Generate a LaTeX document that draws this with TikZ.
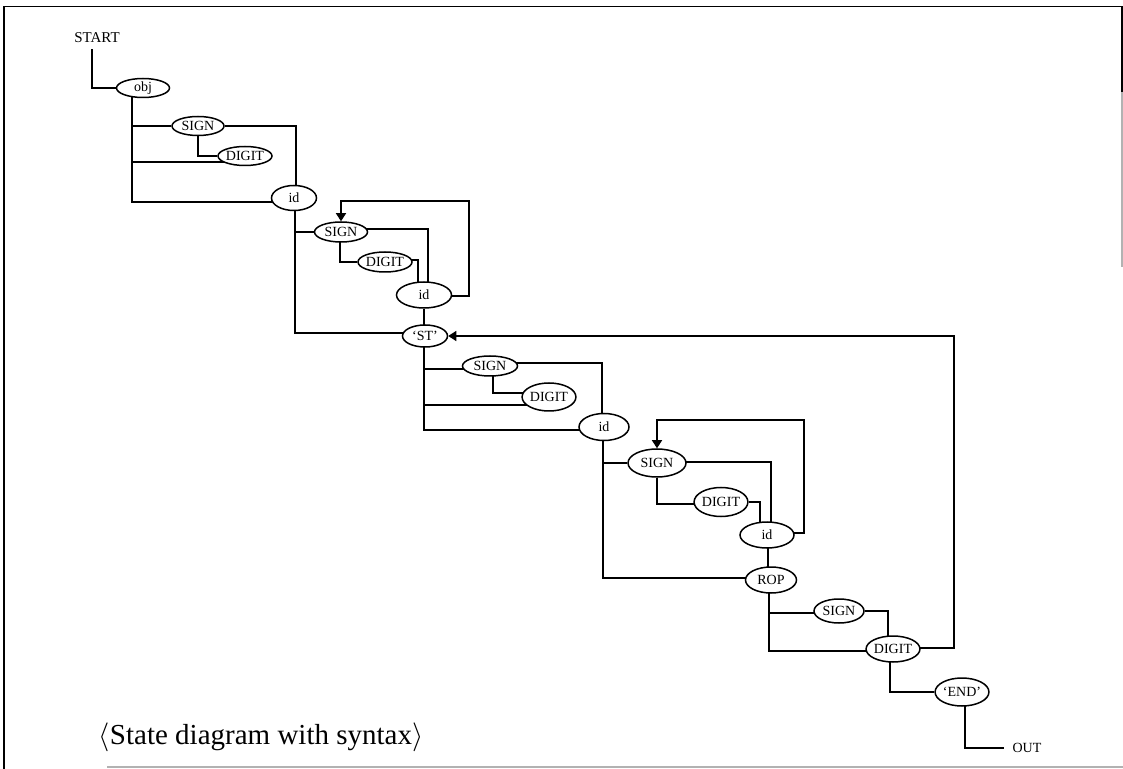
\documentclass[tikz,border=0pt]{standalone}
\usepackage{fontspec}
\setmainfont{Liberation Serif}
\usetikzlibrary{shapes.geometric,arrows.meta,calc,backgrounds}
\begin{document}
\begin{tikzpicture}[x=0.5pt,y=-0.5pt,
  st/.style={ellipse,draw,line width=0.75pt,fill=white,inner sep=0pt,
    font=\fontsize{7}{8}\selectfont},
  wire/.style={line width=0.7pt},
  loopar/.style={wire,-{Triangle[length=4pt,width=5pt]}},
  lbl/.style={inner sep=0pt,font=\fontsize{7}{8}\selectfont}]
\useasboundingbox (0,0) rectangle (1123,769);
% frame
\draw[line width=0.8pt] (4,769) -- (4,6.5) -- (1122,6.5) -- (1122,92);
\draw[line width=0.6pt,black!30] (1122,92) -- (1122,267);
\draw[line width=0.6pt,black!30] (107,767) -- (1123,767);

% labels
\node[lbl,font=\fontsize{7.5}{8}\selectfont] (start) at (97,38) {START};
\node[lbl] (out) at (1027,748) {OUT};
\node[inner sep=0pt,font=\fontsize{14.5}{16}\selectfont] (cap) at (261,737) {$\langle$State diagram with syntax$\rangle$};

% states
\node[st,minimum width=26.5pt,minimum height=9.5pt] (obj) at (143,88)  {obj};
\node[st,minimum width=26pt,minimum height=9.5pt]  (s1)  at (198,126) {SIGN};
\node[st,minimum width=27pt,minimum height=9.5pt]  (d1)  at (245,156) {DIGIT};
\node[st,minimum width=22.5pt,minimum height=12.5pt] (i1) at (294,198) {id};
\node[st,minimum width=26.5pt,minimum height=10pt] (s2)  at (341,232) {SIGN};
\node[st,minimum width=27pt,minimum height=10pt]   (d2)  at (385,262) {DIGIT};
\node[st,minimum width=27.5pt,minimum height=13pt] (i2)  at (424,295) {id};
\node[st,minimum width=22.5pt,minimum height=11pt] (stq) at (425,336) {`ST'};
\node[st,minimum width=27.5pt,minimum height=10pt] (s3) at (490,366) {SIGN};
\node[st,minimum width=26pt,minimum height=14pt]   (d3)  at (549,397) {DIGIT};
\node[st,minimum width=25pt,minimum height=13.5pt] (i3)  at (604,427) {id};
\node[st,minimum width=29pt,minimum height=14pt]   (s4)  at (657,463) {SIGN};
\node[st,minimum width=26.5pt,minimum height=14.5pt] (d4) at (721,502) {DIGIT};
\node[st,minimum width=27pt,minimum height=13pt]   (i4)  at (767,535) {id};
\node[st,minimum width=25.5pt,minimum height=13pt] (rop) at (771,580) {ROP};
\node[st,minimum width=25pt,minimum height=12pt]   (s5)  at (839,611) {SIGN};
\node[st,minimum width=25.5pt,minimum height=13pt] (d5)  at (893,649) {DIGIT};
\node[st,minimum width=26pt,minimum height=14pt]   (en)  at (962,692) {`END'};

\begin{scope}[on background layer]
% start
\draw[wire] ($(start.south)+(-5,6)$) |- (obj);
% group obj
\draw[wire] ($(obj)+(-11,0)$) |- ($(i1)+(0,4)$);
\draw[wire] ($(obj)+(-11,0)$) |- (s1);
\draw[wire] ($(obj)+(-11,0)$) |- ($(d1)+(0,6)$);
\draw[wire] (s1) -| ($(i1)+(2,0)$);
\draw[wire] (s1) |- (d1);
% group id1
\draw[wire] ($(i1)+(1,0)$) |- ($(stq)+(0,-3)$);
\draw[wire] ($(i1)+(1,0)$) |- (s2);
\draw[wire] ($(s2)+(0,-3)$) -| ($(i2)+(4,0)$);
\draw[wire] ($(s2)+(-1,0)$) |- (d2);
\draw[wire] ($(d2)+(0,-2)$) -| ($(i2)+(-6,0)$);
\draw[loopar] ($(i2)+(0,1)$) -| ($(s2)+(128,-31)$) -| (s2.north);
\draw[wire] (i2) -- (i2 |- stq);
% group ST
\draw[wire] ($(stq)+(-1,0)$) |- ($(i3)+(0,3)$);
\draw[wire] ($(stq)+(-1,0)$) |- ($(s3)+(0,3)$);
\draw[wire] ($(stq)+(-1,0)$) |- ($(d3)+(0,8)$);
\draw[wire] ($(s3)+(0,-3)$) -| ($(i3)+(-2,0)$);
\draw[wire] ($(s3)+(3,0)$) |- ($(d3)+(0,-4)$);
% group id3
\draw[wire] ($(i3)+(-1,0)$) |- ($(rop)+(0,-2)$);
\draw[wire] ($(i3)+(-1,0)$) |- (s4);
\draw[wire] ($(s4)+(0,-1)$) -| ($(i4)+(4,0)$);
\draw[wire] (s4) |- ($(d4)+(0,2)$);
\draw[wire] (d4) -| ($(i4)+(-7,0)$);
\draw[loopar] ($(i4)+(0,-2)$) -| ($(s4)+(147,-43)$) -| (s4.north);
\draw[wire] ($(i4)+(1,0)$) -- ($(i4 |- rop)+(1,0)$);
% group ROP
\draw[wire] ($(rop)+(-2,0)$) |- ($(d5)+(0,2)$);
\draw[wire] ($(rop)+(-2,0)$) |- ($(s5)+(0,2)$);
\draw[wire] (s5) -| ($(d5)+(-5,0)$);
\draw[loopar] ($(d5)+(0,-1)$) -| ($(stq)+(529,0)$) -- (stq.east);
\draw[wire] ($(d5)+(-3,0)$) |- (en);
\draw[wire] ($(en)+(3,0)$) |- ($(out.west)+(-8,0)$);
\end{scope}
\end{tikzpicture}
\end{document}
